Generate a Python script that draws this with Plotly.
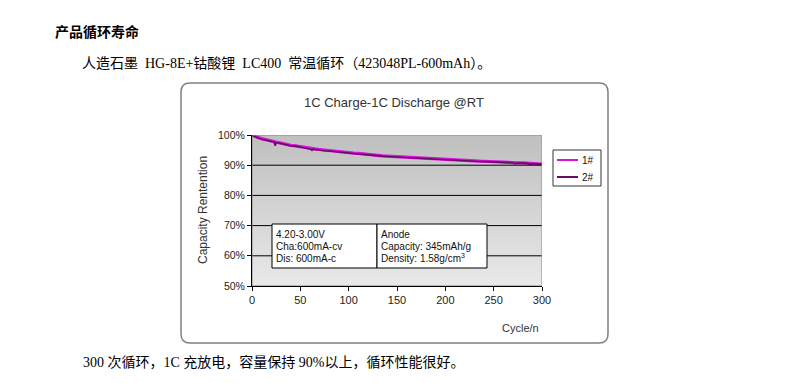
import plotly.graph_objects as go

W, H = 786, 383

cycles = [0, 2, 5, 10, 15, 20, 23, 24, 25, 30, 35, 40, 45, 50, 55, 60, 62, 63, 65, 70,
          75, 80, 85, 90, 95, 100, 105, 110, 115, 120, 125, 130, 135, 140, 145, 150,
          155, 160, 165, 170, 175, 180, 185, 190, 195, 200, 205, 210, 215, 220, 225,
          230, 235, 240, 245, 250, 255, 260, 265, 270, 272, 275, 280, 285, 287, 290,
          295, 300]
cell1 = [100.0, 99.7, 99.3, 98.8, 98.4, 98.0, 97.8, 97.4, 97.6, 97.3, 96.9, 96.6, 96.4,
         96.1, 95.8, 95.6, 95.4, 95.5, 95.4, 95.2, 95.0, 94.8, 94.7, 94.5, 94.3, 94.2,
         94.0, 93.9, 93.7, 93.6, 93.4, 93.3, 93.1, 93.0, 92.9, 92.8, 92.7, 92.6, 92.5,
         92.4, 92.3, 92.2, 92.1, 92.0, 91.95, 91.9, 91.8, 91.7, 91.65, 91.55, 91.5, 91.4,
         91.35, 91.3, 91.2, 91.15, 91.1, 91.0, 90.95, 90.9, 90.85, 90.8, 90.75, 90.7,
         90.65, 90.6, 90.5, 90.4]
cell2 = [100.0, 99.6, 99.2, 98.6, 98.2, 97.8, 97.7, 96.4, 97.5, 97.2, 96.8, 96.4, 96.3,
         95.9, 95.7, 95.4, 94.9, 95.3, 95.2, 95.0, 94.8, 94.7, 94.5, 94.3, 94.2, 94.0,
         93.9, 93.7, 93.6, 93.4, 93.3, 93.1, 93.0, 92.9, 92.8, 92.7, 92.6, 92.5, 92.4,
         92.3, 92.2, 92.1, 92.0, 91.9, 91.85, 91.8, 91.7, 91.6, 91.5, 91.45, 91.4, 91.3,
         91.25, 91.2, 91.1, 91.05, 91.0, 90.9, 90.85, 90.8, 90.5, 90.75, 90.7, 90.6,
         90.3, 90.55, 90.45, 90.3]
series_names = ["1#", "2#"]
series_colors = ["#dd10dd", "#6a0a6a"]

y_ticks = [50, 60, 70, 80, 90, 100]
y_tick_labels = ["50%", "60%", "70%", "80%", "90%", "100%"]
x_ticks = [0, 50, 100, 150, 200, 250, 300]

# pixel helpers -> paper coordinates
def px(x):
    return x / W

def py(y):
    return 1 - y / H

PL, PR, PT, PB = 252, 542, 135, 286
FONT = "Liberation Sans, Arial"

fig = go.Figure()

# gradient background of plot area
fig.add_trace(go.Scatter(
    x=[0, 300, 300, 0, 0], y=[50, 50, 100, 100, 50], mode="lines",
    line=dict(width=0), fill="toself",
    fillgradient=dict(type="vertical", start=50, stop=100,
                      colorscale=[[0, "#e9e9e9"], [1, "#bfbfbf"]]),
    showlegend=False, hoverinfo="skip"))

for name, vals, col, lw in zip(series_names, [cell1, cell2], series_colors, [3.2, 1.6]):
    fig.add_trace(go.Scatter(x=cycles, y=vals, mode="lines", name=name,
                             line=dict(color=col, width=lw), showlegend=False))

shapes = []
# rounded frame
x0, x1, y0, y1 = px(181), px(608), py(83), py(343)
rx, ry = 9 / W, 9 / H
path = (f"M {x0+rx},{y0} L {x1-rx},{y0} Q {x1},{y0} {x1},{y0-ry} "
        f"L {x1},{y1+ry} Q {x1},{y1} {x1-rx},{y1} L {x0+rx},{y1} "
        f"Q {x0},{y1} {x0},{y1+ry} L {x0},{y0-ry} Q {x0},{y0} {x0+rx},{y0} Z")
shapes.append(dict(type="path", xref="paper", yref="paper", path=path,
                   line=dict(color="#808080", width=1.5), fillcolor="white", layer="below"))
# gridlines drawn above background
for t in y_ticks[1:-1]:
    shapes.append(dict(type="line", xref="x", yref="y", x0=0, x1=300, y0=t, y1=t,
                       line=dict(color="black", width=1), layer="above"))
# plot area border (gray top/right)
shapes.append(dict(type="rect", xref="x", yref="y", x0=0, x1=300, y0=50, y1=100,
                   line=dict(color="#8a8a8a", width=1), layer="above"))
# info boxes
shapes.append(dict(type="rect", xref="paper", yref="paper", x0=px(272), x1=px(377),
                   y0=py(268), y1=py(224), line=dict(color="black", width=1),
                   fillcolor="white", layer="above"))
shapes.append(dict(type="rect", xref="paper", yref="paper", x0=px(377), x1=px(487),
                   y0=py(268), y1=py(224), line=dict(color="black", width=1),
                   fillcolor="white", layer="above"))
# legend box and samples
shapes.append(dict(type="rect", xref="paper", yref="paper", x0=px(553), x1=px(601),
                   y0=py(186), y1=py(150), line=dict(color="#333", width=1),
                   fillcolor="white", layer="above"))
for i, col in enumerate(series_colors):
    yy = py(160 + i * 17)
    shapes.append(dict(type="line", xref="paper", yref="paper", x0=px(557), x1=px(578),
                       y0=yy, y1=yy, line=dict(color=col, width=2), layer="above"))

ann = []
def text(x, y, s, size=11, anchor="left", color="#333", family=FONT, **kw):
    ann.append(dict(x=px(x), y=py(y), xref="paper", yref="paper", text=s, showarrow=False,
                    xanchor=anchor, yanchor="middle", font=dict(size=size, color=color,
                    family=family), **kw))

CJK = "Liberation Serif, Noto Sans CJK SC"
text(53, 32, "<b>产品循环寿命</b>", size=14, color="black", family=CJK)
text(80, 64, "人造石墨  HG-8E+钴酸锂  LC400  常温循环（423048PL-600mAh）。", size=14,
     color="black", family=CJK)
text(81, 362, "300 次循环，1C 充放电，容量保持 90%以上，循环性能很好。", size=14,
     color="black", family=CJK)

text(394, 102, "1C Charge-1C Discharge @RT", size=13, anchor="center")
text(520, 328, "Cycle/n", size=11, anchor="center")
text(203, 210, "Capacity Rentention", size=12, anchor="center", textangle=-90)

for i, s in enumerate(["4.20-3.00V", "Cha:600mA-cv", "Dis: 600mA-c"]):
    text(274, 235 + i * 11.5, s, size=10, color="#111")
for i, s in enumerate(["Anode", "Capacity: 345mAh/g", "Density: 1.58g/cm<sup>3</sup>"]):
    text(379, 235 + i * 11.5, s, size=10, color="#111")
for i, s in enumerate(series_names):
    text(580, 160 + i * 17, s, size=10, color="#111")

fig.update_layout(
    width=W, height=H, margin=dict(l=0, r=0, t=0, b=0, autoexpand=False),
    paper_bgcolor="white", plot_bgcolor="rgba(0,0,0,0)",
    shapes=shapes, annotations=ann, showlegend=False,
    xaxis=dict(domain=[px(PL), px(PR)], range=[0, 300], tickvals=x_ticks,
               showgrid=False, zeroline=False, showline=True, linecolor="black",
               ticks="outside", ticklen=4, tickcolor="black", automargin=False,
               tickfont=dict(size=11, color="#222", family=FONT)),
    yaxis=dict(domain=[py(PB), py(PT)], range=[50, 100], tickvals=y_ticks,
               ticktext=y_tick_labels, showgrid=False, zeroline=False, showline=True,
               linecolor="black", ticks="outside", ticklen=4, tickcolor="black",
               automargin=False,
               tickfont=dict(size=10.5, color="#222", family=FONT)),
)

fig.write_html("out.html", config={"displayModeBar": False},
               post_script="document.body.style.margin='0';")
